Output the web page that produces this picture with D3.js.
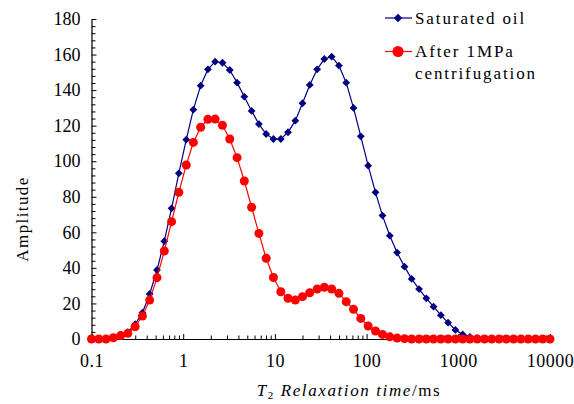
<!DOCTYPE html>
<html>
<head>
<meta charset="utf-8">
<script src="https://cdn.jsdelivr.net/npm/d3@7/dist/d3.min.js"></script>
<style>
  html, body { margin: 0; padding: 0; background: #fff; }
  svg { display: block; }
  text { font-family: "Liberation Serif", "DejaVu Serif", serif; fill: #000; }
</style>
</head>
<body>
<svg id="chart" width="574" height="404"></svg>
<script>
// ---- data ----
const t2Times = [0.1, 0.120, 0.144, 0.173, 0.208, 0.249, 0.299, 0.359, 0.431, 0.518,
  0.622, 0.747, 0.896, 1.08, 1.29, 1.55, 1.86, 2.23, 2.68, 3.22,
  3.87, 4.64, 5.57, 6.69, 8.03, 9.64, 11.6, 13.9, 16.7, 20.0,
  24.0, 28.9, 34.6, 41.6, 49.9, 59.9, 72.0, 86.4, 104, 125,
  149, 179, 215, 259, 310, 373, 448, 537, 645, 774,
  930, 1116, 1339, 1608, 1931, 2318, 2783, 3341, 4010, 4814,
  5780, 6939, 8330, 10000];

const saturatedOil = [0, 0, 0, 0.5, 1.5, 3.8, 8.3, 14.8, 25.3, 38.8,
  55, 73.5, 93.2, 112.1, 129, 142.5, 151.7, 156, 155.4, 151.3,
  144.2, 136.3, 128.3, 120.9, 115.3, 112.5, 112.5, 116.3, 122.8, 132.6,
  142.9, 151.7, 157.5, 158.8, 153.8, 144.2, 130, 114, 97.5, 82.5,
  69.4, 58.1, 48.6, 40.7, 33.8, 28.1, 22.9, 18.2, 13.4, 9.2,
  5.1, 2.6, 1.2, 0.5, 0.2, 0, 0, 0, 0, 0,
  0, 0, 0, 0];

const afterCentrifugation = [0, 0, 0, 0.7, 1.9, 3.2, 6.9, 12.9, 21.9, 34.5,
  49.5, 66, 82.5, 97.9, 110.6, 119.1, 123.6, 123.7, 120.2, 112.5,
  102, 88.9, 74.1, 59.4, 45.4, 34.6, 26.6, 22.9, 21.9, 23.8,
  26, 28.1, 29.1, 28.1, 25.7, 21, 16.7, 11.6, 7.3, 4.5,
  2.6, 1.2, 0.5, 0.2, 0, 0, 0, 0, 0, 0,
  0, 0, 0, 0, 0, 0, 0, 0, 0, 0,
  0, 0, 0, 0];

const seriesNames = ["Saturated oil", "After 1MPa", "centrifugation"];
const xTickValues = [0.1, 1, 10, 100, 1000, 10000];
const xTickLabels = ["0.1", "1", "10", "100", "1000", "10000"];
const yTickValues = [0, 20, 40, 60, 80, 100, 120, 140, 160, 180];

// ---- drawing ----
const svg = d3.select("#chart");
const x = d3.scaleLog().domain([0.1, 10000]).range([91.5, 550]);
const y = d3.scaleLinear().domain([0, 180]).range([339, 19]);

const BLUE = "#000080", RED = "#ff0000";

// minor x ticks
const xMinor = [];
for (let d = 0.1; d < 10000; d *= 10) {
  for (let k = 2; k <= 9; k++) xMinor.push(d * k);
}
svg.append("g").attr("transform", "translate(0,339)")
  .call(d3.axisBottom(x).tickValues(xMinor).tickSizeInner(-3.5).tickSizeOuter(0).tickFormat(""))
  .call(g => g.select(".domain").remove())
  .call(g => g.selectAll("line").attr("stroke", "#000"));

// major x axis
svg.append("g").attr("transform", "translate(0,339)")
  .call(d3.axisBottom(x).tickValues(xTickValues).tickSizeInner(-5).tickSizeOuter(0)
    .tickPadding(15).tickFormat((d, i) => xTickLabels[i]))
  .call(g => g.select(".domain").attr("stroke", "#000").attr("stroke-width", 1.2))
  .call(g => g.selectAll("line").attr("stroke", "#000"))
  .call(g => g.selectAll("text").style("font-size", "18px").style("letter-spacing", "0.5px"));

// minor y ticks
const yMinor = d3.range(0, 181, 4).filter(v => v % 20 !== 0);
svg.append("g").attr("transform", "translate(91.5,0)")
  .call(d3.axisLeft(y).tickValues(yMinor).tickSizeInner(-4).tickSizeOuter(0).tickFormat(""))
  .call(g => g.select(".domain").remove())
  .call(g => g.selectAll("line").attr("stroke", "#000"));

// major y axis
svg.append("g").attr("transform", "translate(91.5,0)")
  .call(d3.axisLeft(y).tickValues(yTickValues).tickSizeInner(-5).tickSizeOuter(0)
    .tickPadding(11).tickFormat(d3.format("d")))
  .call(g => g.select(".domain").attr("stroke", "#000").attr("stroke-width", 1.2))
  .call(g => g.selectAll("line").attr("stroke", "#000"))
  .call(g => g.selectAll("text").style("font-size", "18px"));

// axis titles
svg.append("text")
  .attr("transform", "translate(28,219) rotate(-90)")
  .attr("text-anchor", "middle")
  .style("font-size", "17px").style("letter-spacing", "1.4px")
  .text("Amplitude");

const xt = svg.append("text")
  .attr("x", 349).attr("y", 396)
  .attr("text-anchor", "middle")
  .style("font-size", "17px").style("letter-spacing", "1.6px");
xt.append("tspan").style("font-style", "italic").text("T");
xt.append("tspan").attr("dy", 3).style("font-size", "11px").text("2");
xt.append("tspan").attr("dy", -3).style("font-style", "italic").text(" Relaxation time");
xt.append("tspan").text("/ms");

// lines
const line = d3.line().x((d, i) => x(t2Times[i])).y(d => y(d));
const diamondPath = (s) => `M0,${-s}L${s},0L0,${s}L${-s},0Z`;

svg.append("path").datum(saturatedOil)
  .attr("fill", "none").attr("stroke", BLUE).attr("stroke-width", 1.2).attr("d", line);
svg.append("g").selectAll("path").data(saturatedOil).join("path")
  .attr("d", diamondPath(3.9))
  .attr("transform", (d, i) => `translate(${x(t2Times[i])},${y(d)})`)
  .attr("fill", BLUE);

svg.append("path").datum(afterCentrifugation)
  .attr("fill", "none").attr("stroke", RED).attr("stroke-width", 1.2).attr("d", line);
svg.append("g").selectAll("circle").data(afterCentrifugation).join("circle")
  .attr("cx", (d, i) => x(t2Times[i]))
  .attr("cy", d => y(d))
  .attr("r", 4.5)
  .attr("fill", RED);

// legend
const lg = svg.append("g");
lg.append("line").attr("x1", 385).attr("x2", 412).attr("y1", 18).attr("y2", 18)
  .attr("stroke", BLUE).attr("stroke-width", 1.2);
lg.append("path").attr("d", diamondPath(4.2)).attr("transform", "translate(398,18)").attr("fill", BLUE);
lg.append("text").attr("x", 415).attr("y", 24)
  .style("font-size", "17px").style("letter-spacing", "1.9px").text(seriesNames[0]);

lg.append("line").attr("x1", 385).attr("x2", 412).attr("y1", 51.5).attr("y2", 51.5)
  .attr("stroke", RED).attr("stroke-width", 1.2);
lg.append("circle").attr("cx", 398).attr("cy", 51.5).attr("r", 5.5).attr("fill", RED);
lg.append("text").attr("x", 415).attr("y", 57)
  .style("font-size", "17px").style("letter-spacing", "1.9px").text(seriesNames[1]);
lg.append("text").attr("x", 415).attr("y", 79)
  .style("font-size", "17px").style("letter-spacing", "1.9px").text(seriesNames[2]);
</script>
</body>
</html>
